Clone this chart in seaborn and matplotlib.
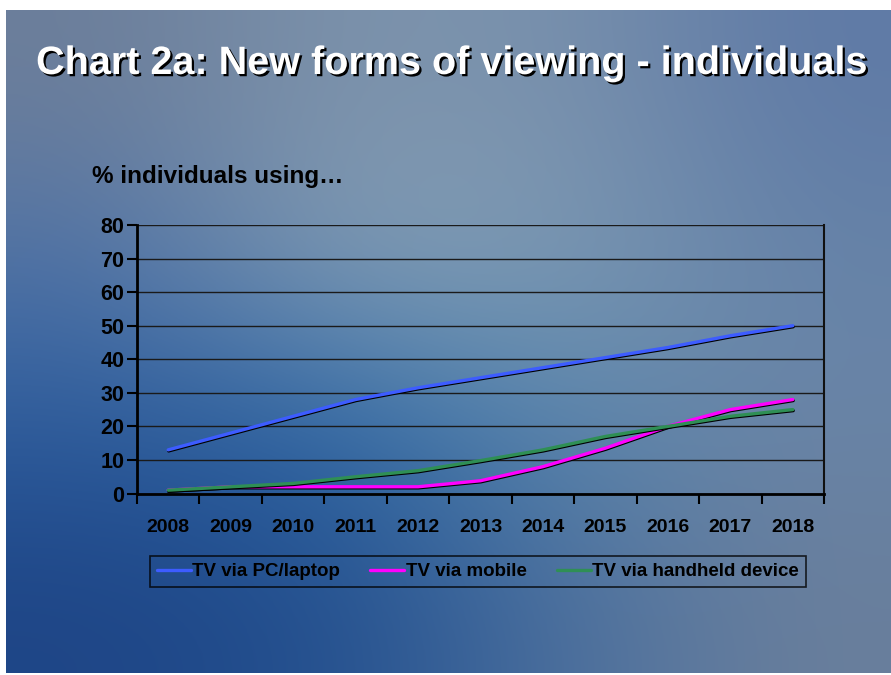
import numpy as np
import pandas as pd
import matplotlib
matplotlib.use("Agg")
import matplotlib.pyplot as plt
import matplotlib.patheffects as pe
from matplotlib.colors import to_rgb
from matplotlib.ticker import FixedLocator
import seaborn as sns

years = [2008, 2009, 2010, 2011, 2012, 2013, 2014, 2015, 2016, 2017, 2018]
pc_laptop = [13, 18, 23, 28, 31.5, 34.5, 37.5, 40.5, 43.5, 47, 50]
mobile = [1, 2, 2, 2, 2, 3.8, 8, 13.5, 20, 25, 28]
handheld = [1, 2, 3, 5, 6.8, 9.8, 13, 17, 20, 23, 25]
series_names = ["TV via PC/laptop", "TV via mobile", "TV via handheld device"]
y_ticks = [0, 10, 20, 30, 40, 50, 60, 70, 80]

title = "Chart 2a: New forms of viewing - individuals"
subtitle = "% individuals using\u2026"

df = pd.DataFrame({
    "year": years * 3,
    "value": pc_laptop + mobile + handheld,
    "series": [series_names[0]] * 11 + [series_names[1]] * 11 + [series_names[2]] * 11,
})

sns.set_theme(style="white")
plt.rcParams["font.family"] = ["Liberation Sans", "DejaVu Sans"]

fig = plt.figure(figsize=(8.91, 6.75), dpi=100, facecolor="white")

# background gradient (slide)
bg = fig.add_axes([6 / 891, 2 / 675, 885 / 891, 663 / 675], zorder=0)
grid_cols = [
    ["#6c7e9a", "#7d93ac", "#7a92ad", "#5f7aa6"],
    ["#4f72a6", "#86a0b6", "#7f9bb4", "#6683a8"],
    ["#2d5c9c", "#2a66a6", "#5a88ae", "#6a84a6"],
    ["#1e4586", "#23508f", "#4a6f9e", "#6a7f9c"],
]
arr = np.array([[to_rgb(c) for c in row] for row in grid_cols])
bg.imshow(arr, aspect="auto", interpolation="bicubic", extent=[0, 1, 0, 1])
bg.set_axis_off()

ax = fig.add_axes([137 / 891, 1 - 493.5 / 675, 687 / 891, 268.5 / 675], zorder=2)
ax.patch.set_alpha(0)

palette = {series_names[0]: "#3d5cff", series_names[1]: "#ff00ff", series_names[2]: "#2f8f55"}
sns.lineplot(data=df, x="year", y="value", hue="series", palette=palette,
             linewidth=2.4, ax=ax, legend=True)
for ln in ax.get_lines():
    ln.set_path_effects([pe.SimpleLineShadow(offset=(0.3, -0.75), shadow_color="black", alpha=1.0),
                         pe.Normal()])

ax.set_xlim(2007.5, 2018.5)
ax.set_ylim(0, 80)
ax.set_yticks(y_ticks)
ax.set_xticks(years)
ax.xaxis.set_minor_locator(FixedLocator([y + 0.5 for y in [2007] + years]))
ax.set_xticklabels([str(y) for y in years], fontsize=14, fontweight="bold",
                   family=["Liberation Sans Narrow", "Liberation Sans"], color="black")
ax.set_yticklabels([str(v) for v in y_ticks], fontsize=15.5, fontweight="bold", color="black")
ax.tick_params(axis="x", which="major", length=0, pad=18, colors="black")
ax.tick_params(axis="x", which="minor", length=7, width=1.5, direction="out", color="black", bottom=True)
ax.tick_params(axis="y", length=7, width=1.5, direction="out", color="black", pad=2, left=True)
ax.set_xlabel("")
ax.set_ylabel("")
ax.yaxis.grid(True, color="#1a1a1a", linewidth=1.0)
ax.set_axisbelow(True)
for s in ["left", "bottom"]:
    ax.spines[s].set_color("black")
    ax.spines[s].set_linewidth(2.0)
ax.spines["right"].set_color("#111111")
ax.spines["right"].set_linewidth(1.5)
ax.spines["top"].set_visible(False)

handles, labels = ax.get_legend_handles_labels()
ax.legend_.remove()
leg = fig.legend(handles, labels, loc="center", bbox_to_anchor=(478 / 891, 1 - 571.5 / 675),
                 ncol=3, frameon=True, fancybox=False, handlelength=1.8, handletextpad=0.1,
                 columnspacing=1.6, borderpad=0.35,
                 prop={"weight": "bold", "size": 13.5})
leg.get_frame().set_facecolor("none")
leg.get_frame().set_edgecolor("black")
leg.get_frame().set_linewidth(1.2)
for t in leg.get_texts():
    t.set_color("black")
for h in leg.get_lines():
    h.set_linewidth(2.4)
    h.set_path_effects([])

fig.text(452 / 891, 1 - 63 / 675, title, ha="center", va="center", color="white",
         fontsize=28.5, fontweight="bold",
         path_effects=[pe.SimplePatchShadow(offset=(1.6, -1.6), shadow_rgbFace="black", alpha=1.0), pe.Normal()])
fig.text(92 / 891, 1 - 177 / 675, subtitle, ha="left", va="center", color="black",
         fontsize=17.5, fontweight="bold")

fig.savefig("out.png", dpi=100, facecolor="white")
